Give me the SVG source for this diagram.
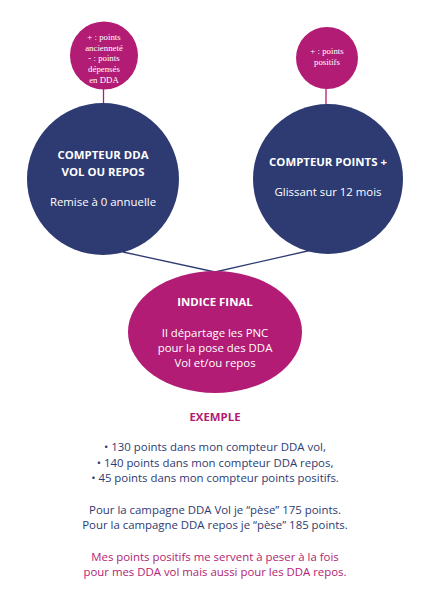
<svg xmlns="http://www.w3.org/2000/svg" width="430" height="609" viewBox="0 0 430 609">
<style>
.navy{fill:#2e3a72}
.pink{fill:#b21c74}
.serif{font-family:"Liberation Serif",serif;font-size:8.8px;fill:#ffffff;text-anchor:middle}
.sans{font-family:"Open Sans","Noto Sans",sans-serif;text-anchor:middle}
.wb{font-size:11.4px;font-weight:bold;fill:#ffffff}
.wr{font-size:11.4px;fill:#ffffff}
.body{font-size:11.4px;fill:#2e3a72}
.pt{font-size:11.4px;fill:#b21c74}
.ln{stroke-width:1.3;fill:none}
</style>
<rect width="430" height="609" fill="#ffffff"/>
<g id="connectors">
<line class="ln" x1="103.5" y1="88" x2="103.5" y2="104" stroke="#b21c74"/>
<line class="ln" x1="326" y1="88" x2="326" y2="106" stroke="#b21c74"/>
<polyline class="ln" points="123,252 215,272 312,250" stroke="#2e3a72"/>
</g>
<g id="small-left">
<circle class="pink" cx="104" cy="55.5" r="34"/>
<text class="serif" x="104" y="40">+ : points</text>
<text class="serif" x="104" y="50.5">ancienneté</text>
<text class="serif" x="104" y="61">- : points</text>
<text class="serif" x="104" y="71.5">dépensés</text>
<text class="serif" x="104" y="82.5">en DDA</text>
</g>
<g id="small-right">
<circle class="pink" cx="327" cy="58" r="31"/>
<text class="serif" x="327" y="54">+ : points</text>
<text class="serif" x="327" y="65">positifs</text>
</g>
<g id="compteur-dda">
<circle class="navy" cx="103" cy="179" r="76"/>
<text class="sans wb" x="103" y="159">COMPTEUR DDA</text>
<text class="sans wb" x="103" y="176">VOL OU REPOS</text>
<text class="sans wr" x="103" y="206">Remise à 0 annuelle</text>
</g>
<g id="compteur-points">
<circle class="navy" cx="328" cy="179" r="75"/>
<text class="sans wb" x="328" y="166">COMPTEUR POINTS +</text>
<text class="sans wr" x="328" y="196">Glissant sur 12 mois</text>
</g>
<g id="indice-final">
<ellipse class="pink" cx="215" cy="332" rx="87" ry="61"/>
<text class="sans wb" x="215" y="306">INDICE FINAL</text>
<text class="sans wr" x="215" y="337">Il départage les PNC</text>
<text class="sans wr" x="215" y="352">pour la pose des DDA</text>
<text class="sans wr" x="215" y="367">Vol et/ou repos</text>
</g>
<g id="exemple">
<text class="sans" x="215" y="421" style="font-size:11.4px;font-weight:bold;fill:#b21c74">EXEMPLE</text>
<text class="sans body" x="215" y="451">• 130 points dans mon compteur DDA vol,</text>
<text class="sans body" x="215" y="467">• 140 points dans mon compteur DDA repos,</text>
<text class="sans body" x="215" y="482">• 45 points dans mon compteur points positifs.</text>
<text class="sans body" x="215" y="514">Pour la campagne DDA Vol je “pèse” 175 points.</text>
<text class="sans body" x="215" y="529">Pour la campagne DDA repos je “pèse” 185 points.</text>
<text class="sans pt" x="215" y="561">Mes points positifs me servent à peser à la fois</text>
<text class="sans pt" x="215" y="576">pour mes DDA vol mais aussi pour les DDA repos.</text>
</g>
</svg>
